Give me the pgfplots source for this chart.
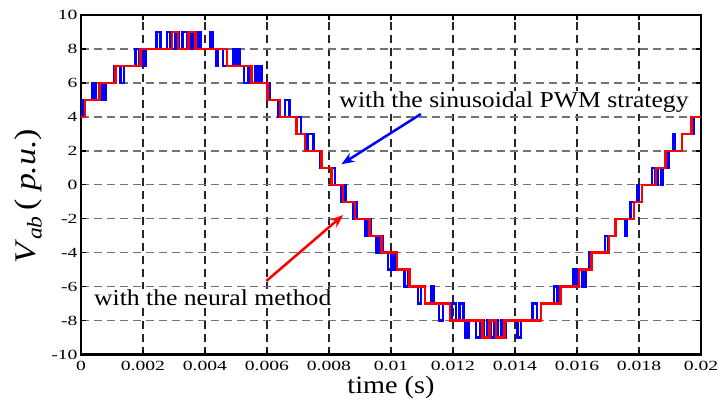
\documentclass[border=0pt]{standalone}
\usepackage{fontspec}
\setmainfont{Liberation Serif}[FakeStretch=1.13]
\newfontfamily\tickfont{Liberation Serif}[FakeStretch=1.4]
\usepackage{pgfplots}
\pgfplotsset{compat=1.18}
\usetikzlibrary{arrows.meta}
\begin{document}
\begin{tikzpicture}
\begin{axis}[
  scale only axis, width=620pt, height=339.7pt,
  xmin=0, xmax=0.02, ymin=-10, ymax=10,
  xtick={0,0.002,0.004,0.006,0.008,0.01,0.012,0.014,0.016,0.018,0.02},
  xticklabels={0,0.002,0.004,0.006,0.008,0.01,0.012,0.014,0.016,0.018,0.02},
  ytick={-10,-8,-6,-4,-2,0,2,4,6,8,10},
  yticklabels={-10,-8,-6,-4,-2,0,2,4,6,8,10},
  scaled x ticks=false,
  tick align=inside, xtick pos=both, ytick pos=both,
  major tick length=5pt,
  every tick/.style={black, line width=1.3pt},
  axis line style={line width=2.5pt},
  grid=major,
  major x grid style={black!85, line width=1.3pt, dash pattern=on 8pt off 5pt},
  major y grid style={black!55, line width=1.3pt, dash pattern=on 8pt off 5pt},
  tick label style={font=\tickfont\fontsize{14}{16}\selectfont},
  xticklabel style={yshift=-3pt},
  xlabel={time (s)},
  xlabel style={font=\fontsize{25}{28}\selectfont, at={(axis description cs:0.5,-0.097)}, anchor=center},
  ylabel={\textit{V}\textsubscript{\textit{ab}}\,( \textit{p.u.})},
  ylabel style={font=\fontsize{30}{34}\selectfont, at={(axis description cs:-0.085,0.466)}, anchor=center},
]
\addplot[blue, line width=2.6pt, const plot] coordinates {
(0,4) (0.00003,5) (0.0001,4) (0.00013,5)
(0.000363,6) (0.000473,5) (0.000666,6) (0.000723,5) (0.000794,6)
(0.001061,7) (0.001277,6) (0.001383,7)
(0.001759,8) (0.001865,7) (0.00192,8) (0.001994,7) (0.00208,8)
(0.002444,9) (0.002563,8) (0.002775,9) (0.002884,8) (0.003045,9) (0.003151,8) (0.00328,9) (0.003418,8) (0.003569,9) (0.003666,8) (0.003762,9) (0.003859,8) (0.004164,9) (0.004244,8)
(0.00435,7) (0.004415,8) (0.004576,7) (0.004897,8) (0.004974,7) (0.005048,8) (0.005113,7)
(0.005264,6) (0.005402,7) (0.005508,6) (0.005617,7) (0.005691,6) (0.005756,7) (0.00583,6)
(0.006077,5)
(0.006367,4) (0.006582,5) (0.00672,4)
(0.007096,3)
(0.007225,2) (0.007309,3) (0.007492,2)
(0.00771,1)
(0.00819,0)
(0.0084,-1) (0.00846,0) (0.00853,-1)
(0.00878,-2) (0.00884,-1) (0.00888,-2)
(0.009174,-3) (0.00926,-2) (0.009347,-3)
(0.009527,-4) (0.009637,-3) (0.009743,-4)
(0.009904,-5) (0.01001,-4) (0.010096,-5) (0.01017,-4) (0.010193,-5)
(0.010441,-6) (0.010547,-5) (0.010601,-6)
(0.010868,-7) (0.010974,-6) (0.011103,-7) (0.011296,-6) (0.011373,-7)
(0.011543,-8) (0.011672,-7) (0.011907,-8) (0.01197,-7) (0.0121,-8) (0.012209,-7) (0.012338,-8)
(0.012402,-9) (0.012508,-8) (0.012743,-9) (0.012871,-8) (0.013006,-9) (0.013119,-8) (0.013225,-9) (0.013334,-8) (0.01344,-9) (0.013547,-8) (0.013617,-9) (0.013698,-8) (0.014084,-9) (0.01419,-8)
(0.014566,-7) (0.014705,-8) (0.014833,-7)
(0.015264,-6) (0.01537,-7) (0.015473,-6)
(0.015884,-5) (0.01599,-6) (0.016067,-5) (0.016174,-6) (0.01628,-5)
(0.0164,-4)
(0.016904,-3) (0.01701,-4) (0.017032,-3)
(0.017244,-2) (0.017547,-3) (0.017611,-2)
(0.017727,-1)
(0.017942,0) (0.018006,-1) (0.018103,0)
(0.018424,1) (0.01852,0) (0.018617,1) (0.018713,0) (0.01878,1)
(0.018961,2)
(0.019122,3) (0.019164,2) (0.019389,3)
(0.019765,4) (0.02,4)
};
\addplot[red, line width=2.6pt, const plot] coordinates {
(0,4) (0.000129,5) (0.000601,6) (0.001116,7) (0.00192,8) (0.002936,9) (0.003129,8) (0.003473,9) (0.003688,8) (0.004704,7) (0.005508,6) (0.006013,5) (0.006421,4) (0.006955,3) (0.007225,2) (0.007759,1) (0.00808,0) (0.008457,-1) (0.008833,-2) (0.009315,-3) (0.009688,-4) (0.010193,-5) (0.010601,-6) (0.011103,-7) (0.011907,-8) (0.012958,-9) (0.013174,-8) (0.013386,-9) (0.013656,-8) (0.014833,-7) (0.015473,-6) (0.016067,-5) (0.016463,-4) (0.017032,-3) (0.017244,-2) (0.017836,-1) (0.018103,0) (0.018553,1) (0.018852,2) (0.019389,3) (0.019688,4) (0.02,4)
};
\node[anchor=base west, fill=white, inner sep=1pt, font=\fontsize{22.7}{26}\selectfont] at (axis cs:0.0083,4.53) {with the sinusoidal PWM strategy};
\node[anchor=base west, fill=white, inner sep=1pt, font=\fontsize{22.7}{26}\selectfont] at (axis cs:0.000385,-7.13) {with the neural method};
\draw[blue, line width=2.5pt, -{Stealth[length=13pt,width=10pt]}] (axis cs:0.010965,4.17) -- (axis cs:0.0084,1.21);
\draw[red, line width=2.5pt, -{Stealth[length=13pt,width=10pt]}] (axis cs:0.00598,-5.66) -- (axis cs:0.008457,-1.78);
\end{axis}
\pgfresetboundingbox
\path[use as bounding box] ([shift={(-81pt,-48.3pt)}]current axis.south west) rectangle ++(721pt,403pt);
\end{tikzpicture}
\end{document}
